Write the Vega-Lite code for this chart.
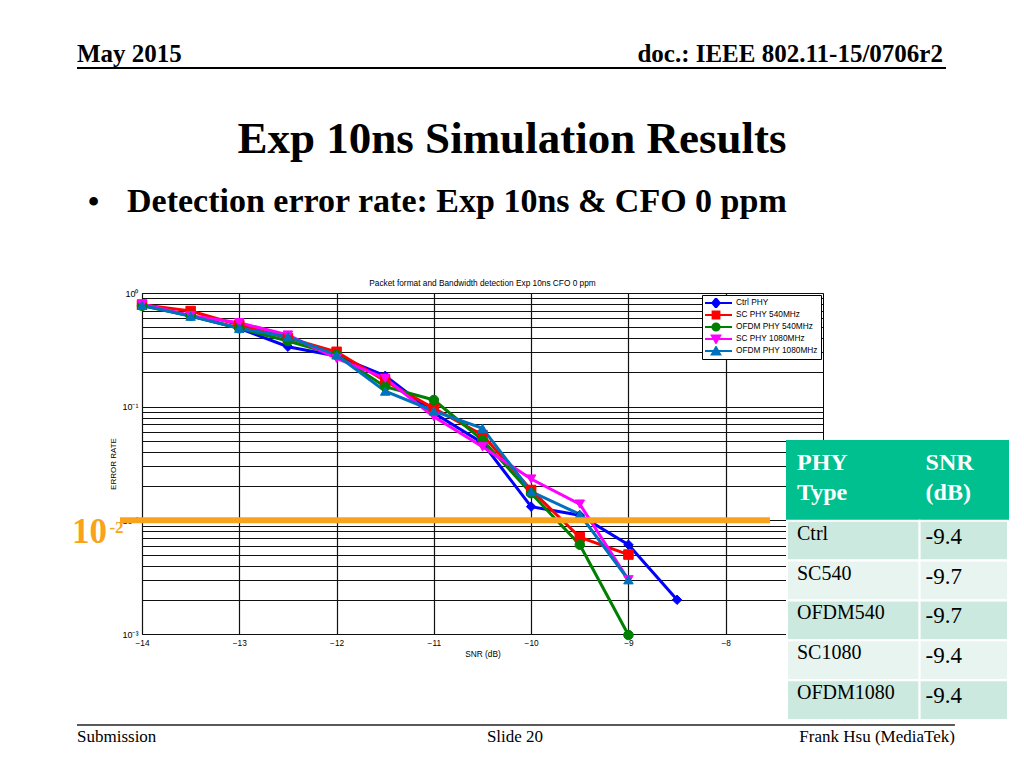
{
  "$schema": "https://vega.github.io/schema/vega-lite/v6.json",
  "width": 681,
  "height": 341,
  "autosize": "none",
  "padding": {"left": 142, "top": 293, "right": 201, "bottom": 134},
  "background": "white",
  "datasets": {
    "series": [
      {"series": "Ctrl PHY", "snr": -14, "err": 0.784},
      {"series": "Ctrl PHY", "snr": -13.5, "err": 0.631},
      {"series": "Ctrl PHY", "snr": -13, "err": 0.489},
      {"series": "Ctrl PHY", "snr": -12.5, "err": 0.337},
      {"series": "Ctrl PHY", "snr": -12, "err": 0.279},
      {"series": "Ctrl PHY", "snr": -11.5, "err": 0.187},
      {"series": "Ctrl PHY", "snr": -11, "err": 0.088},
      {"series": "Ctrl PHY", "snr": -10.5, "err": 0.0479},
      {"series": "Ctrl PHY", "snr": -10, "err": 0.0132},
      {"series": "Ctrl PHY", "snr": -9.5, "err": 0.0111},
      {"series": "Ctrl PHY", "snr": -9, "err": 0.0061},
      {"series": "Ctrl PHY", "snr": -8.5, "err": 0.002},
      {"series": "SC PHY 540MHz", "snr": -14, "err": 0.79},
      {"series": "SC PHY 540MHz", "snr": -13.5, "err": 0.694},
      {"series": "SC PHY 540MHz", "snr": -13, "err": 0.523},
      {"series": "SC PHY 540MHz", "snr": -12.5, "err": 0.402},
      {"series": "SC PHY 540MHz", "snr": -12, "err": 0.304},
      {"series": "SC PHY 540MHz", "snr": -11.5, "err": 0.168},
      {"series": "SC PHY 540MHz", "snr": -11, "err": 0.0967},
      {"series": "SC PHY 540MHz", "snr": -10.5, "err": 0.0563},
      {"series": "SC PHY 540MHz", "snr": -10, "err": 0.0185},
      {"series": "SC PHY 540MHz", "snr": -9.5, "err": 0.0071},
      {"series": "SC PHY 540MHz", "snr": -9, "err": 0.005},
      {"series": "OFDM PHY 540MHz", "snr": -14, "err": 0.77},
      {"series": "OFDM PHY 540MHz", "snr": -13.5, "err": 0.631},
      {"series": "OFDM PHY 540MHz", "snr": -13, "err": 0.489},
      {"series": "OFDM PHY 540MHz", "snr": -12.5, "err": 0.378},
      {"series": "OFDM PHY 540MHz", "snr": -12, "err": 0.285},
      {"series": "OFDM PHY 540MHz", "snr": -11.5, "err": 0.15},
      {"series": "OFDM PHY 540MHz", "snr": -11, "err": 0.1145},
      {"series": "OFDM PHY 540MHz", "snr": -10.5, "err": 0.0509},
      {"series": "OFDM PHY 540MHz", "snr": -10, "err": 0.0173},
      {"series": "OFDM PHY 540MHz", "snr": -9.5, "err": 0.0061},
      {"series": "OFDM PHY 540MHz", "snr": -9, "err": 0.00098},
      {"series": "SC PHY 1080MHz", "snr": -14, "err": 0.8},
      {"series": "SC PHY 1080MHz", "snr": -13.5, "err": 0.631},
      {"series": "SC PHY 1080MHz", "snr": -13, "err": 0.548},
      {"series": "SC PHY 1080MHz", "snr": -12.5, "err": 0.427},
      {"series": "SC PHY 1080MHz", "snr": -12, "err": 0.266},
      {"series": "SC PHY 1080MHz", "snr": -11.5, "err": 0.178},
      {"series": "SC PHY 1080MHz", "snr": -11, "err": 0.0816},
      {"series": "SC PHY 1080MHz", "snr": -10.5, "err": 0.0444},
      {"series": "SC PHY 1080MHz", "snr": -10, "err": 0.0231},
      {"series": "SC PHY 1080MHz", "snr": -9.5, "err": 0.0139},
      {"series": "SC PHY 1080MHz", "snr": -9, "err": 0.003},
      {"series": "OFDM PHY 1080MHz", "snr": -14, "err": 0.78},
      {"series": "OFDM PHY 1080MHz", "snr": -13.5, "err": 0.625},
      {"series": "OFDM PHY 1080MHz", "snr": -13, "err": 0.489},
      {"series": "OFDM PHY 1080MHz", "snr": -12.5, "err": 0.413},
      {"series": "OFDM PHY 1080MHz", "snr": -12, "err": 0.285},
      {"series": "OFDM PHY 1080MHz", "snr": -11.5, "err": 0.137},
      {"series": "OFDM PHY 1080MHz", "snr": -11, "err": 0.0916},
      {"series": "OFDM PHY 1080MHz", "snr": -10.5, "err": 0.0645},
      {"series": "OFDM PHY 1080MHz", "snr": -10, "err": 0.0179},
      {"series": "OFDM PHY 1080MHz", "snr": -9.5, "err": 0.0113},
      {"series": "OFDM PHY 1080MHz", "snr": -9, "err": 0.003}
    ],
    "slide": [
      {"id": "date", "text": "May 2015"},
      {"id": "doc", "text": "doc.: IEEE 802.11-15/0706r2"},
      {"id": "title", "text": "Exp 10ns Simulation Results"},
      {"id": "bullet", "text": "•"},
      {"id": "bulletText", "text": "Detection error rate: Exp 10ns & CFO 0 ppm"},
      {"id": "plotTitle", "text": "Packet format and Bandwidth detection Exp 10ns CFO 0 ppm"},
      {"id": "submission", "text": "Submission"},
      {"id": "slideNo", "text": "Slide 20"},
      {"id": "author", "text": "Frank Hsu (MediaTek)"},
      {"id": "ten", "text": "10"},
      {"id": "exp", "text": "-2"},
      {"id": "headerRule", "text": ""},
      {"id": "footerRule", "text": ""},
      {"id": "threshold", "text": ""}
    ],
    "table": [
      {"row": "h1", "c0": 0, "c1": 3, "shade": "header", "text": "PHY\nType"},
      {"row": "h2", "c0": 0, "c1": 3, "shade": "header", "text": ""},
      {"row": "h1", "c0": 3, "c1": 5, "shade": "header", "text": "SNR\n(dB)"},
      {"row": "h2", "c0": 3, "c1": 5, "shade": "header", "text": ""},
      {"row": "Ctrl", "c0": 0, "c1": 3, "shade": "dark", "text": "Ctrl"},
      {"row": "Ctrl", "c0": 3, "c1": 5, "shade": "dark", "text": "-9.4"},
      {"row": "SC540", "c0": 0, "c1": 3, "shade": "light", "text": "SC540"},
      {"row": "SC540", "c0": 3, "c1": 5, "shade": "light", "text": "-9.7"},
      {"row": "OFDM540", "c0": 0, "c1": 3, "shade": "dark", "text": "OFDM540"},
      {"row": "OFDM540", "c0": 3, "c1": 5, "shade": "dark", "text": "-9.7"},
      {"row": "SC1080", "c0": 0, "c1": 3, "shade": "light", "text": "SC1080"},
      {"row": "SC1080", "c0": 3, "c1": 5, "shade": "light", "text": "-9.4"},
      {"row": "OFDM1080", "c0": 0, "c1": 3, "shade": "dark", "text": "OFDM1080"},
      {"row": "OFDM1080", "c0": 3, "c1": 5, "shade": "dark", "text": "-9.4"}
    ]
  },
  "resolve": {"scale": {"x": "independent", "y": "independent"}},
  "layer": [
    {
      "layer": [
        {
          "data": {"name": "series"},
          "mark": {"type": "line", "strokeWidth": 3},
          "encoding": {
            "x": {"field": "snr", "type": "quantitative",
              "scale": {"domain": [-14, -7], "nice": false, "zero": false},
              "axis": {"values": [-14, -13, -12, -11, -10, -9, -8], "format": "d", "grid": true, "gridColor": "#111", "gridWidth": 1.2, "tickSize": 0, "domain": false, "labelFont": "Liberation Sans", "labelFontSize": 8.3, "labelColor": "#000", "labelPadding": 4, "labelFlush": false, "title": "SNR (dB)", "titleFont": "Liberation Sans", "titleFontSize": 8.3, "titleFontWeight": "normal", "titleColor": "#000", "titlePadding": 3}},
            "y": {"field": "err", "type": "quantitative",
              "scale": {"type": "log", "domain": [0.001, 1], "nice": false},
              "axis": {"values": [1, 0.9, 0.8, 0.7, 0.6, 0.5, 0.4, 0.3, 0.2, 0.1, 0.09, 0.08, 0.07, 0.06, 0.05, 0.04, 0.03, 0.02, 0.01, 0.009, 0.008, 0.007, 0.006, 0.005, 0.004, 0.003, 0.002, 0.001],
                "labelExpr": "datum.value == 1 ? '10⁰' : datum.value == 0.1 ? '10⁻¹' : datum.value == 0.01 ? '10⁻²' : datum.value == 0.001 ? '10⁻³' : ''",
                "grid": true, "gridColor": "#111", "gridWidth": 1.2, "tickSize": 0, "domain": false, "labelFont": "Liberation Sans", "labelFontSize": 9, "labelColor": "#000", "labelPadding": 4, "labelFlush": false, "labelOverlap": false, "title": "ERROR RATE", "titleFont": "Liberation Sans", "titleFontSize": 8, "titleFontWeight": "normal", "titleColor": "#000", "titlePadding": 4}},
            "stroke": {"field": "series", "type": "nominal",
              "scale": {"domain": ["Ctrl PHY", "SC PHY 540MHz", "OFDM PHY 540MHz", "SC PHY 1080MHz", "OFDM PHY 1080MHz"], "range": ["#0000FF", "#FF0000", "#008000", "#FF00FF", "#0072BD"]}}
          }
        },
        {
          "data": {"name": "series"},
          "mark": {"type": "point", "filled": true, "opacity": 1, "size": 90, "strokeWidth": 1},
          "encoding": {
            "x": {"field": "snr", "type": "quantitative"},
            "y": {"field": "err", "type": "quantitative"},
            "fill": {"field": "series", "type": "nominal",
              "scale": {"domain": ["Ctrl PHY", "SC PHY 540MHz", "OFDM PHY 540MHz", "SC PHY 1080MHz", "OFDM PHY 1080MHz"], "range": ["#0000FF", "#FF0000", "#008000", "#FF00FF", "#0072BD"]}},
            "stroke": {"field": "series", "type": "nominal"},
            "shape": {"condition": [
              {"test": "datum.series === 'Ctrl PHY'", "value": "diamond"},
              {"test": "datum.series === 'SC PHY 540MHz'", "value": "square"},
              {"test": "datum.series === 'OFDM PHY 540MHz'", "value": "circle"},
              {"test": "datum.series === 'SC PHY 1080MHz'", "value": "triangle-down"}
            ], "value": "triangle-up"}
          }
        },
        {
          "data": {"name": "series"},
          "mark": {"type": "point", "filled": true, "opacity": 0, "size": 64, "strokeWidth": 2},
          "encoding": {
            "x": {"field": "snr", "type": "quantitative"},
            "y": {"field": "err", "type": "quantitative"},
            "fill": {"field": "series", "type": "nominal",
              "legend": {"title": null, "orient": "top-right", "offset": 2, "fillColor": "#fff", "strokeColor": "#000", "padding": 3, "labelFont": "Liberation Sans", "labelFontSize": 8.3, "labelColor": "#000", "rowPadding": 2, "clipHeight": 10, "symbolSize": 64, "symbolStrokeWidth": 2, "symbolOffset": 6, "labelOffset": 15, "symbolOpacity": 1}},
            "stroke": {"field": "series", "type": "nominal",
              "legend": {"title": null, "orient": "top-right", "offset": 2, "fillColor": "#fff", "strokeColor": "#000", "padding": 3, "labelFont": "Liberation Sans", "labelFontSize": 8.3, "labelColor": "#000", "rowPadding": 2, "clipHeight": 10, "symbolSize": 64, "symbolStrokeWidth": 2, "symbolOffset": 6, "labelOffset": 15, "symbolOpacity": 1}},
            "shape": {"field": "series", "type": "nominal",
              "scale": {"domain": ["Ctrl PHY", "SC PHY 540MHz", "OFDM PHY 540MHz", "SC PHY 1080MHz", "OFDM PHY 1080MHz"],
                "range": [
                  "M-4,0H4M0,-1.15L0.95,0L0,1.15L-0.95,0Z",
                  "M-4,0H4M-0.85,-0.85H0.85V0.85H-0.85Z",
                  "M-4,0H4M0.9,0A0.9,0.9,0,1,1,-0.9,0A0.9,0.9,0,1,1,0.9,0Z",
                  "M-4,0H4M-1.05,-0.85H1.05L0,0.95Z",
                  "M-4,0H4M-1.05,0.85H1.05L0,-0.95Z"
                ]},
              "legend": {"title": null, "orient": "top-right", "offset": 2, "fillColor": "#fff", "strokeColor": "#000", "padding": 3, "labelFont": "Liberation Sans", "labelFontSize": 8.3, "labelColor": "#000", "rowPadding": 2, "clipHeight": 10, "symbolSize": 64, "symbolStrokeWidth": 2, "symbolOffset": 6, "labelOffset": 15, "symbolOpacity": 1}}
          }
        },
        {
          "data": {"name": "slide"},
          "transform": [{"filter": "datum.id === 'threshold'"}],
          "mark": {"type": "rule", "color": "#F8A31B", "strokeWidth": 6},
          "encoding": {
            "x": {"datum": -14.226, "type": "quantitative"},
            "x2": {"datum": -7.545},
            "y": {"datum": 0.01, "type": "quantitative"}
          }
        },
        {
          "data": {"name": "slide"},
          "transform": [{"filter": "datum.id === 'headerRule'"}],
          "mark": {"type": "rule", "color": "#000", "strokeWidth": 2},
          "encoding": {
            "x": {"datum": -14.668, "type": "quantitative"},
            "x2": {"datum": -5.736},
            "y": {"datum": 95.3, "type": "quantitative"}
          }
        },
        {
          "data": {"name": "slide"},
          "transform": [{"filter": "datum.id === 'footerRule'"}],
          "mark": {"type": "rule", "color": "#222", "strokeWidth": 1.5},
          "encoding": {
            "x": {"datum": -14.668, "type": "quantitative"},
            "x2": {"datum": -5.644},
            "y": {"datum": 0.0001584, "type": "quantitative"}
          }
        },
        {
          "data": {"name": "slide"},
          "transform": [{"filter": "datum.id === 'plotTitle'"}],
          "mark": {"type": "text", "font": "Liberation Sans", "fontSize": 8.3, "align": "center", "baseline": "alphabetic", "color": "#000"},
          "encoding": {"x": {"datum": -10.5, "type": "quantitative"}, "y": {"datum": 1.152, "type": "quantitative"}, "text": {"field": "text"}}
        },
        {
          "data": {"name": "slide"},
          "transform": [{"filter": "datum.id === 'date'"}],
          "mark": {"type": "text", "font": "Liberation Serif", "fontSize": 25, "fontWeight": "bold", "align": "left", "baseline": "alphabetic", "color": "#000"},
          "encoding": {"x": {"datum": -14.668, "type": "quantitative"}, "y": {"datum": 107.7, "type": "quantitative"}, "text": {"field": "text"}}
        },
        {
          "data": {"name": "slide"},
          "transform": [{"filter": "datum.id === 'doc'"}],
          "mark": {"type": "text", "font": "Liberation Serif", "fontSize": 25, "fontWeight": "bold", "align": "right", "baseline": "alphabetic", "color": "#000"},
          "encoding": {"x": {"datum": -5.767, "type": "quantitative"}, "y": {"datum": 107.7, "type": "quantitative"}, "text": {"field": "text"}}
        },
        {
          "data": {"name": "slide"},
          "transform": [{"filter": "datum.id === 'title'"}],
          "mark": {"type": "text", "font": "Liberation Serif", "fontSize": 45, "fontWeight": "bold", "align": "center", "baseline": "alphabetic", "color": "#000"},
          "encoding": {"x": {"datum": -10.197, "type": "quantitative"}, "y": {"datum": 17.04, "type": "quantitative"}, "text": {"field": "text"}}
        },
        {
          "data": {"name": "slide"},
          "transform": [{"filter": "datum.id === 'bullet'"}],
          "mark": {"type": "text", "font": "Liberation Serif", "fontSize": 32, "fontWeight": "bold", "align": "left", "baseline": "alphabetic", "color": "#000"},
          "encoding": {"x": {"datum": -14.555, "type": "quantitative"}, "y": {"datum": 5.16, "type": "quantitative"}, "text": {"field": "text"}}
        },
        {
          "data": {"name": "slide"},
          "transform": [{"filter": "datum.id === 'bulletText'"}],
          "mark": {"type": "text", "font": "Liberation Serif", "fontSize": 34, "fontWeight": "bold", "align": "left", "baseline": "alphabetic", "color": "#000"},
          "encoding": {"x": {"datum": -14.154, "type": "quantitative"}, "y": {"datum": 5.16, "type": "quantitative"}, "text": {"field": "text"}}
        },
        {
          "data": {"name": "slide"},
          "transform": [{"filter": "datum.id === 'submission'"}],
          "mark": {"type": "text", "font": "Liberation Serif", "fontSize": 17, "align": "left", "baseline": "alphabetic", "color": "#000"},
          "encoding": {"x": {"datum": -14.668, "type": "quantitative"}, "y": {"datum": 0.0001122, "type": "quantitative"}, "text": {"field": "text"}}
        },
        {
          "data": {"name": "slide"},
          "transform": [{"filter": "datum.id === 'slideNo'"}],
          "mark": {"type": "text", "font": "Liberation Serif", "fontSize": 17, "align": "center", "baseline": "alphabetic", "color": "#000"},
          "encoding": {"x": {"datum": -10.166, "type": "quantitative"}, "y": {"datum": 0.0001122, "type": "quantitative"}, "text": {"field": "text"}}
        },
        {
          "data": {"name": "slide"},
          "transform": [{"filter": "datum.id === 'author'"}],
          "mark": {"type": "text", "font": "Liberation Serif", "fontSize": 17, "align": "right", "baseline": "alphabetic", "color": "#000"},
          "encoding": {"x": {"datum": -5.644, "type": "quantitative"}, "y": {"datum": 0.0001122, "type": "quantitative"}, "text": {"field": "text"}}
        },
        {
          "data": {"name": "slide"},
          "transform": [{"filter": "datum.id === 'ten'"}],
          "mark": {"type": "text", "font": "Liberation Serif", "fontSize": 35, "fontWeight": "bold", "align": "left", "baseline": "alphabetic", "color": "#F8A31B"},
          "encoding": {"x": {"datum": -14.72, "type": "quantitative"}, "y": {"datum": 0.00632, "type": "quantitative"}, "text": {"field": "text"}}
        },
        {
          "data": {"name": "slide"},
          "transform": [{"filter": "datum.id === 'exp'"}],
          "mark": {"type": "text", "font": "Liberation Serif", "fontSize": 17, "fontWeight": "bold", "align": "left", "baseline": "alphabetic", "color": "#F8A31B"},
          "encoding": {"x": {"datum": -14.335, "type": "quantitative"}, "y": {"datum": 0.00774, "type": "quantitative"}, "text": {"field": "text"}}
        }
      ]
    },
    {
      "data": {"name": "table"},
      "layer": [
        {
          "mark": {"type": "rect", "strokeWidth": 2},
          "encoding": {
            "x": {"field": "c0", "type": "quantitative", "scale": {"domain": [0, 5], "range": [645, 866], "nice": false, "zero": false}, "axis": null},
            "x2": {"field": "c1"},
            "y": {"field": "row", "type": "nominal", "sort": null, "scale": {"domain": ["h1", "h2", "Ctrl", "SC540", "OFDM540", "SC1080", "OFDM1080"], "range": [148, 427], "paddingInner": 0, "paddingOuter": 0}, "axis": null},
            "fill": {"condition": [
              {"test": "datum.shade === 'header'", "value": "#00C08F"},
              {"test": "datum.shade === 'dark'", "value": "#CCE9DF"}
            ], "value": "#E7F4EF"},
            "stroke": {"condition": {"test": "datum.shade === 'header'", "value": "#00C08F"}, "value": "#FFFFFF"}
          }
        },
        {
          "transform": [{"filter": "datum.shade === 'header' && datum.c0 === 0 && datum.text !== ''"}],
          "mark": {"type": "text", "font": "Liberation Serif", "fontSize": 24, "fontWeight": "bold", "color": "#FFFFFF", "align": "left", "baseline": "alphabetic", "dx": 10, "dy": 9, "lineHeight": 30, "lineBreak": "\n"},
          "encoding": {"x": {"field": "c0", "type": "quantitative"}, "y": {"field": "row", "type": "nominal"}, "text": {"field": "text"}}
        },
        {
          "transform": [{"filter": "datum.shade === 'header' && datum.c0 === 3 && datum.text !== ''"}],
          "mark": {"type": "text", "font": "Liberation Serif", "fontSize": 24, "fontWeight": "bold", "color": "#FFFFFF", "align": "left", "baseline": "alphabetic", "dx": 6, "dy": 9, "lineHeight": 30, "lineBreak": "\n"},
          "encoding": {"x": {"field": "c0", "type": "quantitative"}, "y": {"field": "row", "type": "nominal"}, "text": {"field": "text"}}
        },
        {
          "transform": [{"filter": "datum.shade !== 'header' && datum.c0 === 0"}],
          "mark": {"type": "text", "font": "Liberation Serif", "fontSize": 20, "color": "#000", "align": "left", "baseline": "alphabetic", "dx": 10, "dy": -1},
          "encoding": {"x": {"field": "c0", "type": "quantitative"}, "y": {"field": "row", "type": "nominal"}, "text": {"field": "text"}}
        },
        {
          "transform": [{"filter": "datum.shade !== 'header' && datum.c0 === 3"}],
          "mark": {"type": "text", "font": "Liberation Serif", "fontSize": 23, "color": "#000", "align": "left", "baseline": "alphabetic", "dx": 6, "dy": 3},
          "encoding": {"x": {"field": "c0", "type": "quantitative"}, "y": {"field": "row", "type": "nominal"}, "text": {"field": "text"}}
        }
      ]
    }
  ],
  "config": {
    "font": "Liberation Sans",
    "view": {"stroke": "#000", "strokeWidth": 1}
  }
}
